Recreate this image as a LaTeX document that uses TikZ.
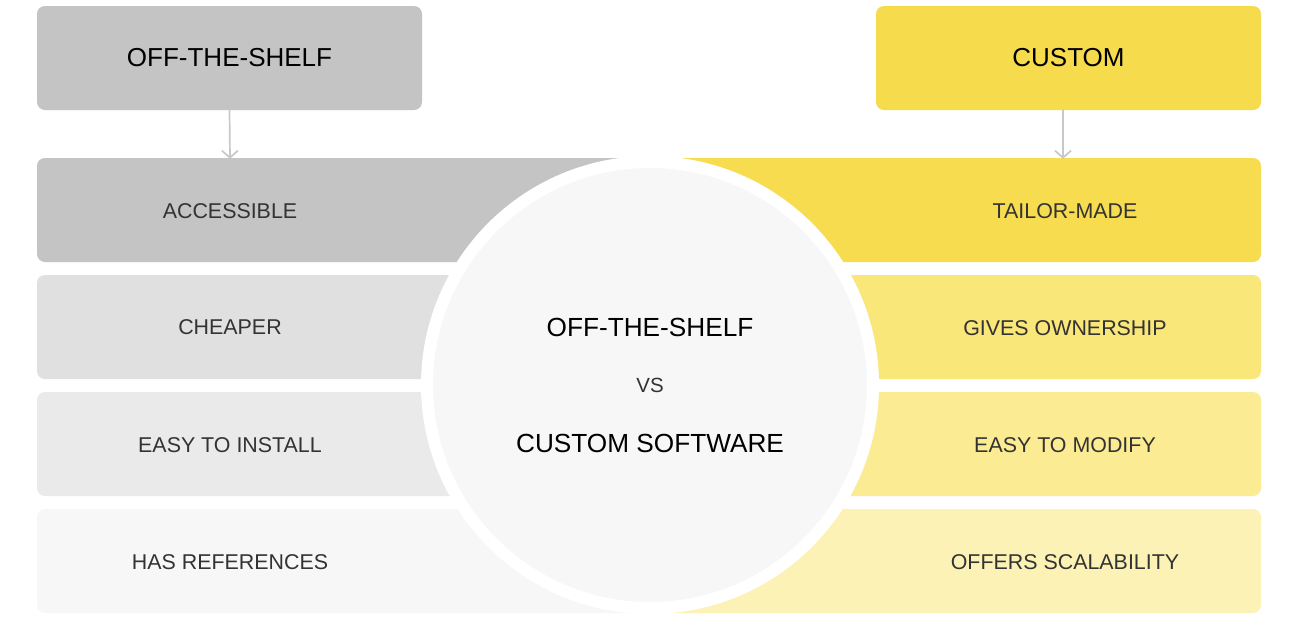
\documentclass[tikz,border=0pt]{standalone}
\usepackage{fontspec}
\setmainfont{Liberation Sans}
\usetikzlibrary{arrows.meta}
\definecolor{hgray}{HTML}{C4C4C4}
\definecolor{gA}{HTML}{C4C4C4}
\definecolor{gB}{HTML}{E0E0E0}
\definecolor{gC}{HTML}{EAEAEA}
\definecolor{gD}{HTML}{F7F7F7}
\definecolor{hyel}{HTML}{F6DB4D}
\definecolor{yA}{HTML}{F6DC4E}
\definecolor{yB}{HTML}{FAE77A}
\definecolor{yC}{HTML}{FBEC93}
\definecolor{yD}{HTML}{FDF2B6}
\definecolor{txt}{HTML}{333333}
\definecolor{arr}{HTML}{C8C8C8}
\definecolor{circfill}{HTML}{F7F7F7}
\tikzset{
  hdr/.style={rounded corners=8pt, minimum width=385pt, minimum height=104pt, inner sep=0pt, text=black, font=\fontsize{26}{31}\selectfont},
  cell/.style={minimum width=386pt, minimum height=104pt, inner sep=0pt, text=txt, font=\fontsize{21.4}{25}\selectfont},
  band/.style={rounded corners=8pt},
  conn/.style={draw=arr, line width=1.7pt, -{Straight Barb[length=7pt,width=16pt,line width=1.7pt]}},
  ctext/.style={text=black, font=\fontsize{26.2}{31}\selectfont, inner sep=0pt},
}
\begin{document}
\begin{tikzpicture}[x=1pt,y=-1pt]
\useasboundingbox (0,0) rectangle (1296,630);
\fill[white] (0,0) rectangle (1296,630);
% headers
\node[hdr, fill=hgray] (hl) at (229.5,58) {OFF-THE-SHELF};
\node[hdr, fill=hyel] (hr) at (1068.5,58) {CUSTOM};
% bands
\foreach \yt/\gc/\yc in {158/gA/yA, 275/gB/yB, 392/gC/yC, 509/gD/yD}{
  \fill[band, \gc] (37,\yt) rectangle (662,\yt+104);
  \fill[band, \yc] (638,\yt) rectangle (1261,\yt+104);
  \fill[\gc] (600,\yt) rectangle (650,\yt+104);
  \fill[\yc] (650,\yt) rectangle (700,\yt+104);
}
% circle
\node[circle, fill=circfill, draw=white, line width=12pt, minimum size=446pt, inner sep=0pt] (c) at (650,385) {};
\node[ctext] (c1) at (650,327) {OFF-THE-SHELF};
\node[ctext, text=txt, font=\fontsize{20.5}{24}\selectfont] (c2) at (650,385) {VS};
\node[ctext] (c3) at (650,443) {CUSTOM SOFTWARE};
% cells
\node[cell] (l1) at (230,211) {ACCESSIBLE};
\node[cell] (l2) at (230,327) {CHEAPER};
\node[cell] (l3) at (230,445) {EASY TO INSTALL};
\node[cell] (l4) at (230,562) {HAS REFERENCES};
\node[cell] (r1) at (1065,211) {TAILOR-MADE};
\node[cell] (r2) at (1065,328) {GIVES OWNERSHIP};
\node[cell] (r3) at (1065,445) {EASY TO MODIFY};
\node[cell] (r4) at (1065,562) {OFFERS SCALABILITY};
% connectors
\coordinate (ra) at (1063,110);
\draw[conn] (hl.south) -- (l1.north);
\draw[conn] (ra) -- (ra |- r1.north);
\end{tikzpicture}
\end{document}
